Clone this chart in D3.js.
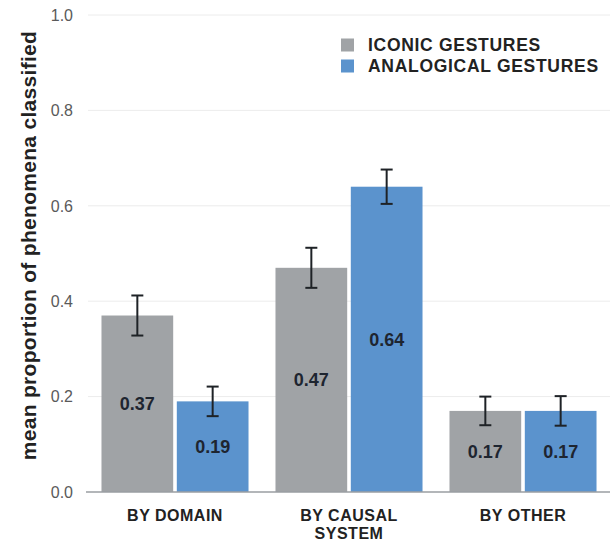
<!DOCTYPE html>
<html>
<head>
<meta charset="utf-8">
<script src="https://cdn.jsdelivr.net/npm/d3@7"></script>
<style>
  body { margin: 0; background: #fff; }
  text { font-family: "Liberation Sans", Arial, sans-serif; }
</style>
</head>
<body>
<div id="container"></div>
<script>
/* DATA */
const categories = [["BY DOMAIN"], ["BY CAUSAL", "SYSTEM"], ["BY OTHER"]];
const seriesNames = ["ICONIC GESTURES", "ANALOGICAL GESTURES"];
const iconicValues = [0.37, 0.47, 0.17];
const analogicalValues = [0.19, 0.64, 0.17];
const iconicErrors = [0.042, 0.042, 0.030];
const analogicalErrors = [0.031, 0.036, 0.031];
const yTicks = [0, 0.2, 0.4, 0.6, 0.8, 1.0];

const width = 610, height = 546;
const margin = {top: 15, bottom: 54, left: 88, right: 0};
const colors = ["#a0a3a6", "#5b93cd"];

const rows = categories.map((c, i) => ({
  label: c,
  key: c.join(" "),
  values: [
    {s: 0, v: iconicValues[i], e: iconicErrors[i]},
    {s: 1, v: analogicalValues[i], e: analogicalErrors[i]}
  ]
}));

const svg = d3.select("#container")
  .append("svg")
  .attr("width", width)
  .attr("height", height);

/* SCALES */
const xScale = d3.scaleBand()
  .domain(rows.map(d => d.key))
  .range([margin.left, width - margin.right])
  .paddingInner(0.155)
  .paddingOuter(0.0775);

const xInner = d3.scaleBand()
  .domain([0, 1])
  .range([0, xScale.bandwidth()])
  .paddingInner(0.048);

const yScale = d3.scaleLinear()
  .domain([0, 1])
  .range([height - margin.bottom, margin.top]);

// gridlines
svg.append("g")
  .selectAll("line")
  .data(yTicks.filter(d => d > 0))
  .join("line")
  .attr("x1", margin.left)
  .attr("x2", width)
  .attr("y1", d => yScale(d))
  .attr("y2", d => yScale(d))
  .attr("stroke", "#ececec")
  .attr("stroke-width", 1);

// y tick labels
svg.append("g")
  .selectAll("text")
  .data(yTicks)
  .join("text")
  .attr("x", 73)
  .attr("y", d => yScale(d))
  .attr("dy", "0.36em")
  .attr("text-anchor", "end")
  .attr("fill", "#5a5a5a")
  .style("font-size", "16px")
  .text(d => d.toFixed(1));

// y title
svg.append("text")
  .attr("transform", `translate(36, 245.5) rotate(-90)`)
  .attr("text-anchor", "middle")
  .attr("fill", "#222")
  .style("font-size", "21px")
  .style("font-weight", "bold")
  .style("letter-spacing", "0.3px")
  .text("mean proportion of phenomena classified");

// bars
const groups = svg.append("g")
  .selectAll("g")
  .data(rows)
  .join("g")
  .attr("transform", d => `translate(${xScale(d.key)},0)`);

groups.selectAll("rect")
  .data(d => d.values)
  .join("rect")
  .attr("x", d => xInner(d.s))
  .attr("width", xInner.bandwidth())
  .attr("y", d => yScale(d.v))
  .attr("height", d => yScale(0) - yScale(d.v))
  .attr("fill", d => colors[d.s]);

// error bars
const err = groups.selectAll("g.err")
  .data(d => d.values)
  .join("g")
  .attr("class", "err")
  .attr("stroke", "#1e2226")
  .attr("stroke-width", 2);

err.append("line")
  .attr("x1", d => xInner(d.s) + xInner.bandwidth() / 2)
  .attr("x2", d => xInner(d.s) + xInner.bandwidth() / 2)
  .attr("y1", d => yScale(d.v + d.e))
  .attr("y2", d => yScale(d.v - d.e));

err.selectAll("line.cap")
  .data(d => [d.v + d.e, d.v - d.e].map(y => ({s: d.s, y})))
  .join("line")
  .attr("class", "cap")
  .attr("x1", d => xInner(d.s) + xInner.bandwidth() / 2 - 6)
  .attr("x2", d => xInner(d.s) + xInner.bandwidth() / 2 + 6)
  .attr("y1", d => yScale(d.y))
  .attr("y2", d => yScale(d.y));

// value labels
groups.selectAll("text.val")
  .data(d => d.values)
  .join("text")
  .attr("class", "val")
  .attr("x", d => xInner(d.s) + xInner.bandwidth() / 2)
  .attr("y", d => (yScale(d.v) + yScale(0)) / 2)
  .attr("dy", "0.36em")
  .attr("text-anchor", "middle")
  .attr("fill", "#1e2530")
  .style("font-size", "18px")
  .style("font-weight", "bold")
  .text(d => d.v.toFixed(2));

// x axis line
svg.append("line")
  .attr("x1", 86)
  .attr("x2", width)
  .attr("y1", yScale(0))
  .attr("y2", yScale(0))
  .attr("stroke", "#9a9ea2")
  .attr("stroke-width", 1.5);

// category labels
svg.append("g")
  .selectAll("text")
  .data(rows)
  .join("text")
  .attr("x", d => xScale(d.key) + xScale.bandwidth() / 2)
  .attr("y", 521)
  .attr("text-anchor", "middle")
  .attr("fill", "#222")
  .style("font-size", "16px")
  .style("font-weight", "bold")
  .style("letter-spacing", "0.5px")
  .selectAll("tspan")
  .data(d => d.label)
  .join("tspan")
  .attr("x", function() { return d3.select(this.parentNode).attr("x"); })
  .attr("dy", (d, i) => i === 0 ? 0 : 18)
  .text(d => d);

// legend
const legend = svg.append("g")
  .attr("transform", "translate(341, 38.5)");

const legendItems = legend.selectAll("g")
  .data(seriesNames)
  .join("g")
  .attr("transform", (d, i) => `translate(0, ${i * 21})`);

legendItems.append("rect")
  .attr("width", 13)
  .attr("height", 13)
  .attr("fill", (d, i) => colors[i]);

legendItems.append("text")
  .attr("x", 27)
  .attr("y", 12.8)
  .attr("fill", "#222")
  .style("font-size", "17.5px")
  .style("font-weight", "bold")
  .style("letter-spacing", "0.7px")
  .text(d => d);
</script>
</body>
</html>
